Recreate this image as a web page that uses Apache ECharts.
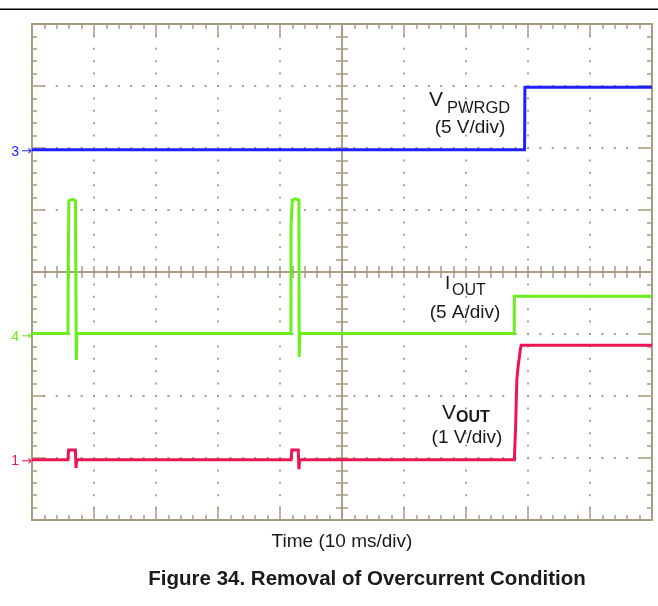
<!DOCTYPE html>
<html>
<head>
<meta charset="utf-8">
<script src="https://cdn.jsdelivr.net/npm/echarts@6/dist/echarts.min.js"></script>
<style>html,body{margin:0;padding:0;background:#fff;}#c{width:658px;height:606px;}</style>
</head>
<body>
<div id="c"></div>
<script>
// Time axis: ms relative to screen centre (10 ms/div); vertical axis: divisions from centre
const timeRange = [-50, 50];
const divRange = [-4, 4];

// V_PWRGD trace (blue) [ms, div]
const vpwrgd = [[-50, 1.97], [29.45, 1.97], [29.5, 2.98], [50, 2.98]];

// I_OUT trace (green) [ms, div]
const iout = [
  [-50, -0.99], [-44.2, -0.99], [-44.15, 0.1], [-44.05, 1.15], [-43.5, 1.17], [-42.98, 1.15],
  [-42.95, 0.31], [-42.88, 0.31], [-42.85, -1.42], [-42.75, -0.99],
  [-8.23, -0.99], [-8.22, 0.73], [-8.05, 0.73], [-8.02, 1.16], [-7.5, 1.18], [-6.95, 1.16],
  [-6.9, -1.37], [-6.8, -0.99],
  [27.78, -0.99], [27.8, -0.39], [50, -0.39]
];

// V_OUT trace (red) [ms, div]
const vout = [
  [-50, -3.03], [-44.2, -3.03], [-44.1, -2.87], [-43.0, -2.87], [-42.9, -3.16], [-42.8, -3.03],
  [-8.2, -3.03], [-8.1, -2.87], [-7.05, -2.87], [-6.95, -3.18], [-6.85, -3.03],
  [27.8, -3.03], [28.0, -2.5], [28.2, -1.74], [28.4, -1.53], [28.75, -1.26], [28.9, -1.18], [50, -1.18]
];

// Channel markers
const channelMarks = [
  { name: '3', level: 1.935 },
  { name: '4', level: -1.048 },
  { name: '1', level: -3.056 }
];

const xTitle = 'Time (10 ms/div)';
const figTitle = 'Figure 34. Removal of Overcurrent Condition';

const gridColor = '#a69c80';
const blue = '#1f1fff', green = '#6cee1e', red = '#ec1452';
const txt = '#1a1a1a';
const FF = '"Liberation Sans", Arial, sans-serif';

function borderAxis(pos, isX) {
  return {
    type: 'value', gridIndex: 0, position: pos,
    min: isX ? timeRange[0] : divRange[0], max: isX ? timeRange[1] : divRange[1],
    interval: isX ? 10 : 1,
    axisLine: { show: true, onZero: false, lineStyle: { color: gridColor, width: 2 } },
    axisTick: { show: true, inside: true, length: 12, lineStyle: { color: gridColor, width: 1.5 } },
    minorTick: { show: true, splitNumber: 5, length: 5, lineStyle: { color: gridColor, width: 1.5 } },
    axisLabel: { show: false },
    splitLine: { show: false }
  };
}
function centerAxis(pos, isX) {
  return {
    type: 'value', gridIndex: 0, position: pos,
    min: isX ? timeRange[0] : divRange[0], max: isX ? timeRange[1] : divRange[1],
    interval: isX ? 2 : 0.2,
    axisLine: { show: true, onZero: true, onZeroAxisIndex: 0, lineStyle: { color: gridColor, width: 1.5 } },
    axisTick: { show: true, inside: true, length: 6, lineStyle: { color: gridColor, width: 1.5 } },
    axisLabel: { show: false },
    splitLine: { show: false }
  };
}

const xBottom = borderAxis('bottom', true);
xBottom.splitLine = { show: true, lineStyle: { color: gridColor, width: 1.8, type: [2, 10.4], dashOffset: 1 } };
xBottom.name = xTitle;
xBottom.nameLocation = 'middle';
xBottom.nameGap = 12;
xBottom.nameTextStyle = { fontFamily: FF, fontSize: 19, color: txt };

const yLeft = borderAxis('left', false);
yLeft.splitLine = { show: true, lineStyle: { color: gridColor, width: 1.8, type: [2, 10.4], dashOffset: 1 } };

function mark(coord, text, style, position) {
  return {
    coord: coord, symbol: 'circle', symbolSize: 0,
    label: Object.assign({ show: true, formatter: text, position: position, distance: 0, fontFamily: FF }, style)
  };
}

function chanMark(i, color) {
  const c = channelMarks[i];
  return mark([timeRange[0], c.level], '{n|' + c.name + '}{a|\u2192}', {
    color: color,
    rich: {
      n: { fontFamily: FF, fontSize: 14, color: color, padding: [0, 2, 0, 0] },
      a: { fontFamily: 'DejaVu Sans', fontSize: 13, color: color }
    }
  }, 'left');
}

function traceStyle(color) {
  return { color: color, width: 3, join: 'miter', cap: 'butt' };
}

const chart = echarts.init(document.getElementById('c'));
chart.setOption({
  animation: false,
  backgroundColor: '#fff',
  title: {
    text: figTitle, left: 362, textAlign: 'center', top: 564,
    textStyle: { fontFamily: FF, fontSize: 20.5, fontWeight: 'bold', color: txt }
  },
  graphic: [{ type: 'rect', shape: { x: 0, y: 8.5, width: 658, height: 1.5 }, style: { fill: '#000' } }],
  grid: { left: 32, right: 6, top: 24, bottom: 86, outerBoundsMode: 'none', containLabel: false },
  xAxis: [xBottom, borderAxis('top', true), centerAxis('bottom', true), centerAxis('top', true)],
  yAxis: [yLeft, borderAxis('right', false), centerAxis('left', false), centerAxis('right', false)],
  series: [
    {
      type: 'line', data: vpwrgd, showSymbol: false, xAxisIndex: 0, yAxisIndex: 0,
      lineStyle: traceStyle(blue), itemStyle: { color: blue },
      markPoint: { silent: true, data: [
        chanMark(0, blue),
        mark([14.03, 2.774], 'V', { color: txt, fontSize: 21 }, 'right'),
        mark([16.94, 2.637], 'PWRGD', { color: txt, fontSize: 16.5 }, 'right'),
        mark([20.65, 2.32], '(5 V/div)', { color: txt, fontSize: 19 }, 'inside')
      ] }
    },
    {
      type: 'line', data: iout, showSymbol: false, xAxisIndex: 0, yAxisIndex: 0,
      lineStyle: traceStyle(green), itemStyle: { color: green },
      markPoint: { silent: true, data: [
        chanMark(1, green),
        mark([16.6, -0.185], 'I', { color: txt, fontSize: 19 }, 'right'),
        mark([17.74, -0.306], 'OUT', { color: txt, fontSize: 16 }, 'right'),
        mark([19.84, -0.66], '(5 A/div)', { color: txt, fontSize: 19 }, 'inside')
      ] }
    },
    {
      type: 'line', data: vout, showSymbol: false, xAxisIndex: 0, yAxisIndex: 0,
      lineStyle: traceStyle(red), itemStyle: { color: red },
      markPoint: { silent: true, data: [
        chanMark(2, red),
        mark([16.13, -2.282], 'V', { color: txt, fontSize: 21 }, 'right'),
        mark([18.39, -2.347], 'OUT', { color: txt, fontSize: 16, fontWeight: 'bold' }, 'right'),
        mark([20.16, -2.669], '(1 V/div)', { color: txt, fontSize: 19 }, 'inside')
      ] }
    }
  ]
});
</script>
</body>
</html>
